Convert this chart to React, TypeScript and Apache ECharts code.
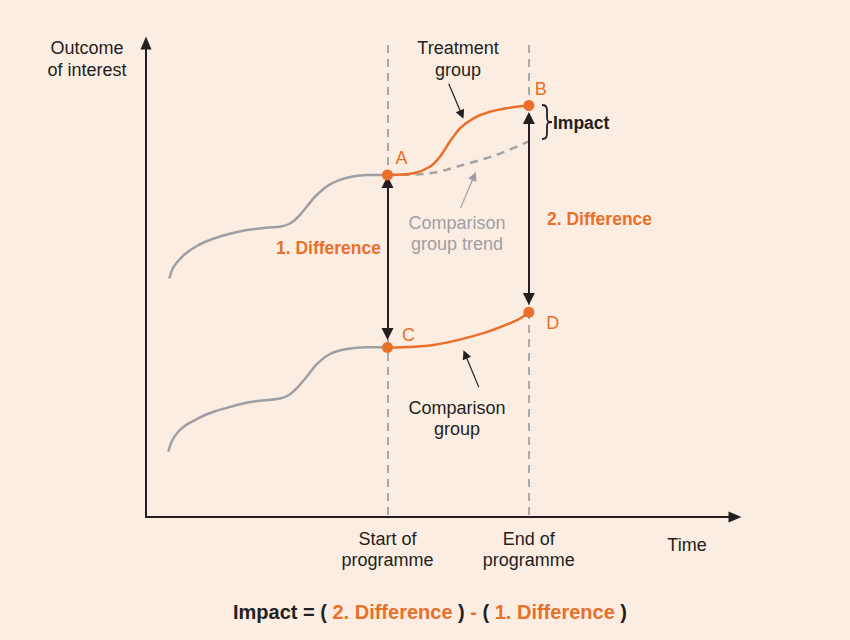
import React, { useEffect, useRef } from "react";
import * as echarts from "echarts";

// Curves (x: time 0-100, y: outcome 0-100)
const treatmentBefore: number[][] = [
  [3.96, 50.36], [4.58, 52.53], [5.6, 54.22], [6.96, 55.8], [8.49, 57.07], [10.19, 58.12],
  [12.05, 58.97], [14.09, 59.7], [16.3, 60.34], [18.51, 60.76], [20.71, 61.08], [22.92, 61.29],
  [24.45, 61.92], [25.81, 63.29], [27.28, 65.46], [28.98, 67.93], [31.24, 70.19], [34.07, 71.58],
  [37.47, 72.15], [41, 72.15],
];
const treatmentAfter: number[][] = [
  [41, 72.15], [45.4, 72.5], [48.2, 73.9], [49.9, 76.0], [51.6, 79.2], [53.3, 82.0],
  [55.6, 84.1], [58.4, 85.5], [62.1, 86.4], [65, 86.8],
];
const counterfactualTrend: number[][] = [
  [41, 72.15], [48.2, 72.5], [53.9, 74.3], [59.5, 76.4], [64.9, 79.2],
];
const comparisonBefore: number[][] = [
  [3.79, 13.78], [4.41, 16.03], [5.43, 17.93], [6.79, 19.41], [8.32, 20.46], [10.02, 21.52],
  [11.88, 22.36], [13.92, 23.1], [16.13, 23.84], [18.34, 24.37], [20.54, 24.68], [22.75, 25.0],
  [24.28, 25.74], [25.64, 27.22], [27.28, 29.6], [28.98, 32.22], [31.24, 34.39], [34.07, 35.44],
  [37.47, 35.8], [41, 35.76],
];
const comparisonAfter: number[][] = [
  [41, 35.76], [48.8, 36.3], [57.3, 38.8], [63.1, 41.6], [65, 43.2],
];
const pointNames = ["A", "B", "C", "D"];
const pointX = [41, 65, 41, 65];
const pointY = [72.15, 86.8, 35.76, 43.2];

const programmeTicks = [41, 65];
const programmeLabels = ["Start of\nprogramme", "End of\nprogramme"];

const differenceArrows: number[][][] = [
  [[41, 70.7], [41, 38.6]],
  [[65, 46.0], [65, 84.2]],
];
const treatmentPointer: number[][] = [[51.4, 91.4], [53.6, 84.9]];
const trendPointer: number[][] = [[53.4, 65.2], [55.7, 71.9]];
const comparisonPointer: number[][] = [[56.5, 27.4], [54.2, 34.3]];

const ORANGE = "#E8702A";
const DARK = "#231F20";
const GREY = "#9D9FA2";
const FONT = "Liberation Sans, Arial, sans-serif";

echarts.graphic.registerShape(
  "brace",
  echarts.graphic.extendPath(
    "M0,0 C5,0 5,3 5,7 L5,13 C5,16 6,17 10,17 C6,17 5,18 5,21 L5,27 C5,31 5,34 0,34",
    {}
  ) as any
);

export default function App() {
  const ref = useRef<HTMLDivElement>(null);
  useEffect(() => {
    document.body.style.margin = "0";
    const chart = echarts.init(ref.current!, null, { renderer: "svg" });
    const txt = (x: number, y: number, text: string, extra: any = {}) => ({
      type: "text",
      x,
      y,
      style: {
        text,
        fill: DARK,
        fontSize: 18,
        fontFamily: FONT,
        align: "center",
        verticalAlign: "middle",
        lineHeight: 21,
        ...extra,
      },
    });
    const smoothLine = (data: number[][], color: string, z: number, type: any = "solid") => ({
      type: "line",
      data,
      smooth: 0.3,
      showSymbol: false,
      lineStyle: { color, width: 2.5, type },
      z,
    });
    const option: any = {
      animation: false,
      backgroundColor: "#FCEDE2",
      grid: { left: 146, right: 115, top: 43, bottom: 123 },
      xAxis: {
        type: "value",
        min: 0,
        max: 100,
        splitLine: { show: false },
        axisTick: { show: false },
        axisLine: {
          show: true,
          symbol: ["none", "triangle"],
          symbolSize: [11, 13],
          lineStyle: { color: DARK, width: 2 },
        },
        axisLabel: {
          show: true,
          customValues: programmeTicks,
          formatter: (v: number) => programmeLabels[programmeTicks.indexOf(v)] ?? "",
          margin: 11,
          fontSize: 18,
          lineHeight: 21,
          color: DARK,
          fontFamily: FONT,
        },
      },
      yAxis: {
        type: "value",
        min: 0,
        max: 100,
        splitLine: { show: false },
        axisTick: { show: false },
        axisLabel: { show: false },
        axisLine: {
          show: true,
          symbol: ["none", "triangle"],
          symbolSize: [11, 13],
          lineStyle: { color: DARK, width: 2 },
        },
      },
      series: [
        {
          type: "lines",
          coordinateSystem: "cartesian2d",
          z: 1,
          symbol: "none",
          lineStyle: { color: "#A7A9AC", width: 2, type: [8, 6], opacity: 1 },
          data: programmeTicks.map((x) => ({ coords: [[x, 0.4], [x, 101.5]] })),
        },
        smoothLine(treatmentBefore, GREY, 2),
        smoothLine(comparisonBefore, GREY, 2),
        smoothLine(counterfactualTrend, "#A3A4A6", 2, [8, 6]),
        smoothLine(treatmentAfter, ORANGE, 3),
        smoothLine(comparisonAfter, ORANGE, 3),
        {
          type: "lines",
          coordinateSystem: "cartesian2d",
          symbol: ["triangle", "triangle"],
          symbolSize: 12,
          lineStyle: { color: DARK, width: 2, opacity: 1 },
          z: 4,
          data: differenceArrows.map((c) => ({ coords: c })),
        },
        {
          type: "lines",
          coordinateSystem: "cartesian2d",
          symbol: ["none", "triangle"],
          symbolSize: 9,
          lineStyle: { color: DARK, width: 1.2, opacity: 1 },
          z: 4,
          data: [{ coords: treatmentPointer }, { coords: comparisonPointer }],
        },
        {
          type: "lines",
          coordinateSystem: "cartesian2d",
          symbol: ["none", "triangle"],
          symbolSize: 9,
          lineStyle: { color: "#9D9FA2", width: 1.2, opacity: 1 },
          z: 4,
          data: [{ coords: trendPointer }],
        },
        {
          type: "scatter",
          symbolSize: 11,
          itemStyle: { color: ORANGE, opacity: 1 },
          z: 5,
          label: {
            show: true,
            formatter: "{b}",
            color: ORANGE,
            fontSize: 18,
            fontFamily: FONT,
            position: "inside",
          },
          data: pointNames.map((n, i) => {
            const offs = [[14, -17], [12, -17], [21, -12], [24, 11]][i];
            return { name: n, value: [pointX[i], pointY[i]], label: { offset: offs } };
          }),
        },
      ],
      graphic: [
        txt(87, 59, "Outcome\nof interest", { lineHeight: 22 }),
        txt(458, 59, "Treatment\ngroup", { lineHeight: 22 }),
        txt(457, 233.5, "Comparison\ngroup trend", { fill: "#9D9FA2" }),
        txt(457, 418.5, "Comparison\ngroup"),
        txt(687, 545, "Time"),
        txt(381, 248, "1. Difference", { fill: ORANGE, fontWeight: "bold", fontSize: 17.5, align: "right" }),
        txt(547, 219, "2. Difference", { fill: ORANGE, fontWeight: "bold", fontSize: 17.5, align: "left" }),
        txt(553, 123, "Impact", { fontWeight: "bold", fontSize: 17.5, align: "left" }),
        {
          type: "brace",
          x: 542,
          y: 105,
          style: { stroke: DARK, lineWidth: 1.8, fill: "none" },
        },
        {
          type: "text",
          x: 430,
          y: 612,
          style: {
            text: "{d|Impact = ( }{o|2. Difference}{d| ) }{o|-}{d| ( }{o|1. Difference}{d| )}",
            align: "center",
            verticalAlign: "middle",
            rich: {
              d: { fill: DARK, fontWeight: "bold", fontSize: 20, fontFamily: FONT },
              o: { fill: ORANGE, fontWeight: "bold", fontSize: 20, fontFamily: FONT },
            },
          },
        },
      ],
    };
    chart.setOption(option);
    return () => chart.dispose();
  }, []);
  return <div ref={ref} style={{ width: 850, height: 640 }} />;
}
